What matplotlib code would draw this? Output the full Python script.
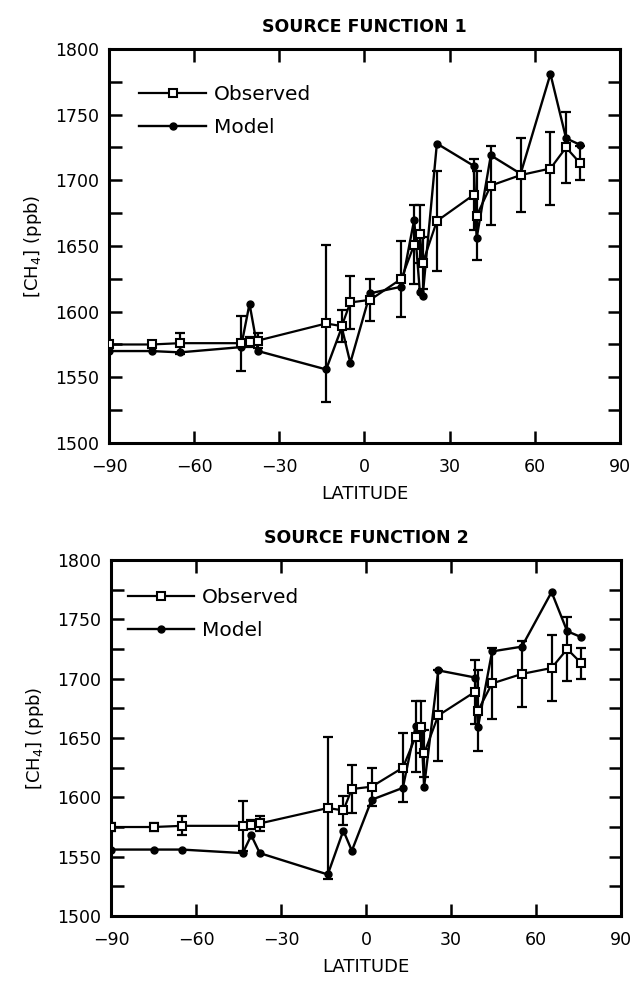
import numpy as np
import matplotlib
matplotlib.use('Agg')
import matplotlib.pyplot as plt
from matplotlib.ticker import MultipleLocator

plt.rcParams['font.family'] = ['DejaVu Sans']

# latitudes of the stations (shared by observed and model series)
lat = [-90, -75, -65, -43.5, -40.5, -37.5, -13.5, -8, -5, 2, 13, 17.5, 19.5, 20.5,
       25.5, 38.5, 39.5, 44.5, 55, 65.5, 71, 76]

# observed CH4 (ppb) and error bars
obs = [1575, 1575, 1576, 1576, 1577, 1578, 1591, 1589, 1607, 1609, 1625, 1651, 1659, 1637,
       1669, 1689, 1673, 1696, 1704, 1709, 1725, 1713]
obs_err = [3, 3, 8, 21, 4, 6, 60, 12, 20, 16, 29, 30, 22, 20,
           38, 27, 34, 30, 28, 28, 27, 13]

# model results for the two source functions
model_1 = [1570, 1570, 1569, 1573, 1606, 1570, 1556, 1588, 1561, 1614, 1619, 1670, 1615, 1612,
           1728, 1711, 1656, 1719, 1705, 1781, 1732, 1727]
model_2 = [1556, 1556, 1556, 1553, 1568, 1553, 1535, 1572, 1555, 1598, 1608, 1660, 1658, 1609,
           1707, 1701, 1659, 1723, 1727, 1773, 1740, 1735]

titles = ['SOURCE FUNCTION 1', 'SOURCE FUNCTION 2']
models = [model_1, model_2]
boxes = [[0.1711, 0.5489, 0.8022, 0.4012], [0.1743, 0.0672, 0.8006, 0.3625]]
legend_pos = [(0.036, 0.94), (0.009, 0.956)]

fig = plt.figure(figsize=(6.37, 9.82), dpi=100)

for box, title, model, lpos in zip(boxes, titles, models, legend_pos):
    ax = fig.add_axes(box)
    ax.errorbar(lat, obs, yerr=obs_err, fmt='none', ecolor='black', elinewidth=1.6,
                capsize=3.6, capthick=1.6, zorder=2)
    ax.plot(lat, model, color='black', lw=1.7, marker='o', ms=5,
            mfc='black', mec='black', label='Model', zorder=3)
    ax.plot(lat, obs, color='black', lw=1.6, marker='s', ms=5.5,
            mfc='white', mec='black', mew=1.5, label='Observed', zorder=4)

    ax.set_xlim(-90, 90)
    ax.set_ylim(1500, 1800)
    ax.xaxis.set_major_locator(MultipleLocator(30))
    ax.yaxis.set_major_locator(MultipleLocator(50))
    ax.yaxis.set_minor_locator(MultipleLocator(25))
    ax.tick_params(which='both', direction='in', top=True, right=True,
                   width=1.8, length=9, labelsize=12.5)
    ax.tick_params(axis='x', pad=11)
    ax.tick_params(axis='y', pad=7)
    for s in ax.spines.values():
        s.set_linewidth(2.2)

    ax.set_title(title, fontsize=12.5, fontweight='bold', pad=12)
    ax.set_xlabel('LATITUDE', fontsize=13, labelpad=6)
    ax.set_ylabel('[CH$_4$] (ppb)', fontsize=13, labelpad=8)

    h, l = ax.get_legend_handles_labels()
    ax.legend(h[::-1], l[::-1], loc='upper left', bbox_to_anchor=lpos, frameon=False,
              numpoints=1, handlelength=3.3, fontsize=14.5, labelspacing=0.7,
              handletextpad=0.4, borderaxespad=0.2)

fig.savefig('out.png', dpi=100)
